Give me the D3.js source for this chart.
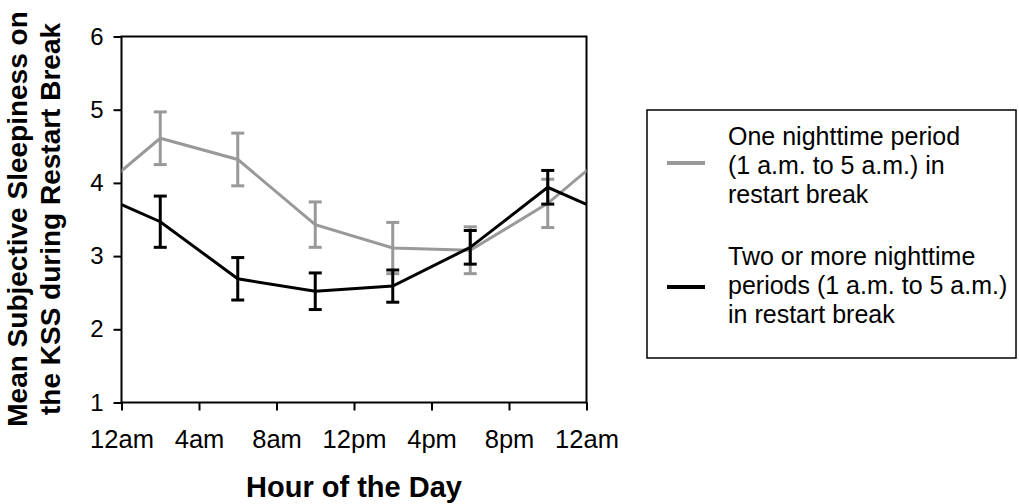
<!DOCTYPE html>
<html>
<head>
<meta charset="utf-8">
<script src="https://cdn.jsdelivr.net/npm/d3@7"></script>
<style>
  body { margin: 0; background: #fff; }
  svg { display: block; font-family: "Liberation Sans", Arial, sans-serif; }
</style>
</head>
<body>
<main></main>
<script>
// chart values
var hours = [2, 6, 10, 14, 18, 22];
var oneNightMean = [4.61, 4.32, 3.43, 3.11, 3.08, 3.72];
var oneNightErr = [0.36, 0.36, 0.31, 0.35, 0.32, 0.33];
var twoNightMean = [3.47, 2.69, 2.52, 2.59, 3.12, 3.94];
var twoNightErr = [0.35, 0.29, 0.25, 0.22, 0.23, 0.23];
var xTicks = [0, 4, 8, 12, 16, 20, 24];
var xTickLabels = ["12am", "4am", "8am", "12pm", "4pm", "8pm", "12am"];
var yTicks = [1, 2, 3, 4, 5, 6];
var legendOne = ["One nighttime period", "(1 a.m. to 5 a.m.) in", "restart break"];
var legendTwo = ["Two or more nighttime", "periods (1 a.m. to 5 a.m.)", "in restart break"];

function createSVG(){
    var width = 1019;
    var height = 504;
    var left = 121.5, right = 586.5, top = 36.5, bottom = 402.5;

    var svg = d3.select("main")
    .append("svg")
    .attr("width", width)
    .attr("height", height)

    const xScale = d3.scaleLinear()
    .domain([0, 24])
    .range([left, right])

    const yScale = d3.scaleLinear()
    .domain([1, 6])
    .range([bottom, top])

    svg.append("defs").append("clipPath")
    .attr("id", "plotclip")
    .append("rect")
    .attr("x", left).attr("y", top)
    .attr("width", right - left).attr("height", bottom - top)

    // frame
    svg.append("rect")
    .attr("x", left).attr("y", top)
    .attr("width", right - left).attr("height", bottom - top)
    .attr("fill", "none")
    .attr("stroke", "#000")
    .attr("stroke-width", 2)

    var y_axis = d3.axisLeft(yScale)
    .tickValues(yTicks)
    .tickFormat(d3.format("d"))
    .tickSize(8)
    .tickSizeOuter(0)
    .tickPadding(10)

    var gy = svg.append("g")
    .attr("id", "y-axis")
    .attr("transform", "translate(" + left + ",0)")
    .call(y_axis);
    gy.select(".domain").remove();
    gy.selectAll("line").attr("stroke-width", 2);
    gy.selectAll("text").style("font-size", "24px").attr("fill", "#000")
      .attr("font-family", "Liberation Sans, Arial, sans-serif");

    var x_axis = d3.axisBottom(xScale)
    .tickValues(xTicks)
    .tickFormat((d, i) => xTickLabels[i])
    .tickSize(8)
    .tickSizeOuter(0)
    .tickPadding(19)

    var gx = svg.append("g")
    .attr("id", "x-axis")
    .attr("transform", "translate(0," + bottom + ")")
    .call(x_axis);
    gx.select(".domain").remove();
    gx.selectAll("line").attr("stroke-width", 2);
    gx.selectAll("text").style("font-size", "25.5px").attr("fill", "#000")
      .attr("font-family", "Liberation Sans, Arial, sans-serif");

    // series, wrapped around midnight
    var series = [
        {mean: oneNightMean, err: oneNightErr, color: "#999999"},
        {mean: twoNightMean, err: twoNightErr, color: "#000000"}
    ];

    var line = d3.line()
    .x(d => xScale(d.h))
    .y(d => yScale(d.v));

    series.forEach(s => {
        var pts = hours.map((h, i) => ({h: h, v: s.mean[i], e: s.err[i]}));
        var n = hours.length;
        var wrapped = [{h: hours[n - 1] - 24, v: s.mean[n - 1]}]
            .concat(pts)
            .concat([{h: hours[0] + 24, v: s.mean[0]}]);

        svg.append("path")
        .datum(wrapped)
        .attr("clip-path", "url(#plotclip)")
        .attr("fill", "none")
        .attr("stroke", s.color)
        .attr("stroke-width", 3)
        .attr("d", line);

        var g = svg.append("g").attr("stroke", s.color).attr("stroke-width", 3);
        g.selectAll(".bar")
        .data(pts)
        .enter()
        .append("line")
        .attr("x1", d => xScale(d.h)).attr("x2", d => xScale(d.h))
        .attr("y1", d => yScale(d.v + d.e)).attr("y2", d => yScale(d.v - d.e));
        g.selectAll(".captop")
        .data(pts)
        .enter()
        .append("line")
        .attr("x1", d => xScale(d.h) - 6.5).attr("x2", d => xScale(d.h) + 6.5)
        .attr("y1", d => yScale(d.v + d.e)).attr("y2", d => yScale(d.v + d.e));
        g.selectAll(".capbot")
        .data(pts)
        .enter()
        .append("line")
        .attr("x1", d => xScale(d.h) - 6.5).attr("x2", d => xScale(d.h) + 6.5)
        .attr("y1", d => yScale(d.v - d.e)).attr("y2", d => yScale(d.v - d.e));
    });

    // axis titles
    svg.append("text")
    .attr("x", 354)
    .attr("y", 497)
    .attr("text-anchor", "middle")
    .style("font-size", "29px")
    .style("font-weight", "bold")
    .text("Hour of the Day");

    var yTitle = svg.append("text")
    .attr("transform", "translate(0,219) rotate(-90)")
    .attr("text-anchor", "middle")
    .style("font-size", "28px")
    .style("font-weight", "bold");
    yTitle.append("tspan").attr("x", 0).attr("y", 27).text("Mean Subjective Sleepiness on");
    yTitle.append("tspan").attr("x", 0).attr("y", 60).text("the KSS during Restart Break");

    // legend
    svg.append("rect")
    .attr("x", 647).attr("y", 110)
    .attr("width", 369).attr("height", 248)
    .attr("fill", "none")
    .attr("stroke", "#000")
    .attr("stroke-width", 1.5)

    var legendItems = [
        {lines: legendOne, color: "#999999", sy: 163, ty: 145},
        {lines: legendTwo, color: "#000000", sy: 287, ty: 265}
    ];
    legendItems.forEach(item => {
        svg.append("line")
        .attr("x1", 667).attr("x2", 705)
        .attr("y1", item.sy).attr("y2", item.sy)
        .attr("stroke", item.color)
        .attr("stroke-width", 4);
        item.lines.forEach((t, i) => {
            svg.append("text")
            .attr("x", 728)
            .attr("y", item.ty + i * 29)
            .style("font-size", "25px")
            .text(t);
        });
    });
}
createSVG();
</script>
</body>
</html>
